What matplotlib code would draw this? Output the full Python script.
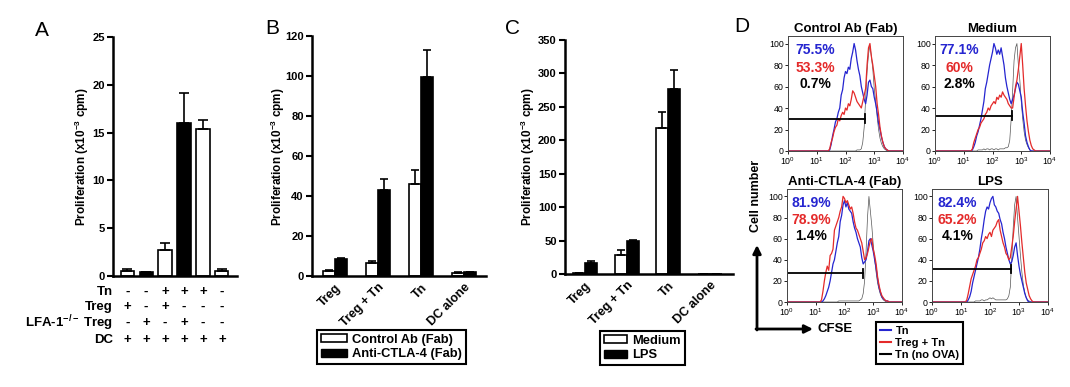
import matplotlib
matplotlib.use('Agg')
import matplotlib.pyplot as plt
import matplotlib.transforms as mtransforms
from matplotlib.patches import Patch
from matplotlib.lines import Line2D
from matplotlib.ticker import LogLocator, NullFormatter
import numpy as np

plt.rcParams['font.family'] = ['Liberation Sans', 'DejaVu Sans']
plt.rcParams['mathtext.fontset'] = 'custom'
plt.rcParams['mathtext.rm'] = 'Liberation Sans'
plt.rcParams['mathtext.bf'] = 'Liberation Sans:bold'
plt.rcParams['mathtext.it'] = 'Liberation Sans:italic'

# ---- panel A data ----
a_rows = ['Tn', 'Treg', r'LFA-1$^{\mathbf{-/-}}$ Treg', 'DC']
a_table = [['-', '-', '+', '+', '+', '-'],
           ['+', '-', '+', '-', '-', '-'],
           ['-', '+', '-', '+', '-', '-'],
           ['+', '+', '+', '+', '+', '+']]
a_vals = [0.52, 0.42, 2.75, 16.0, 15.4, 0.49]
a_err = [0.25, 0.0, 0.7, 3.1, 0.9, 0.24]

# ---- panel B data ----
b_groups = ['Treg', 'Treg + Tn', 'Tn', 'DC alone']
b_series = ['Control Ab (Fab)', 'Anti-CTLA-4 (Fab)']
b_ctrl = [2.5, 6.7, 46.2, 1.7]
b_ctrl_err = [0.7, 1.0, 7.0, 0.5]
b_anti = [8.3, 42.8, 99.3, 1.8]
b_anti_err = [0.5, 5.9, 13.9, 0.4]

# ---- panel C data ----
c_groups = ['Treg', 'Treg + Tn', 'Tn', 'DC alone']
c_series = ['Medium', 'LPS']
c_med = [1.5, 29, 219, 0]
c_med_err = [0, 7.5, 23, 0]
c_lps = [17, 49, 277, 0]
c_lps_err = [3, 1.5, 28, 0]

# ---- panel D data (CFSE histograms, log10 CFSE bins) ----
d_titles = ['Control Ab (Fab)', 'Medium', 'Anti-CTLA-4 (Fab)', 'LPS']
d_legend = ['Tn', 'Treg + Tn', 'Tn (no OVA)']
d_pct = [['75.5%', '53.3%', '0.7%'],
         ['77.1%', '60%', '2.8%'],
         ['81.9%', '78.9%', '1.4%'],
         ['82.4%', '65.2%', '4.1%']]
d_logx = np.round(np.arange(1.10, 3.601, 0.05), 2)
d_tn = [
    [0,0,0,0,0,0,0,1,6,14,20,27,30,36,40,52,57,68,74,72,78,76,86,92,100,94,84,76,70,60,54,48,44,52,64,66,60,58,50,44,36,26,20,13,8,4,2,1,0,0,0],
    [0,0,0,0,1,4,8,14,18,24,30,38,46,58,64,72,80,86,92,100,96,90,94,90,96,88,80,68,60,54,48,44,48,52,58,64,62,56,50,36,26,14,8,4,1,0,0,0,0,0,0],
    [0,0,0,1,3,6,10,14,20,28,36,40,48,56,62,76,82,92,96,90,94,88,86,84,76,70,66,60,56,52,42,36,38,40,48,58,60,54,48,40,32,22,14,9,5,3,2,1,1,0,0],
    [0,0,0,2,5,10,18,24,30,36,42,50,60,68,78,86,90,88,94,98,100,92,90,86,84,78,74,66,60,52,46,40,36,38,44,52,56,44,34,26,20,14,8,4,1,0,0,0,0,0,0],
]
d_treg_tn = [
    [0,0,0,0,0,0,0,2,8,12,18,22,24,30,28,33,36,34,40,38,44,42,48,56,54,50,46,44,42,40,46,52,58,80,96,100,88,80,70,60,44,34,22,14,8,4,2,1,0,0,0],
    [0,0,0,0,2,8,12,16,20,22,26,28,30,34,36,40,38,42,44,46,44,50,48,52,50,55,52,50,48,44,42,40,40,50,60,66,76,88,100,80,58,42,28,18,10,5,2,1,0,0,0],
    [0,0,2,10,20,28,34,30,44,46,50,68,72,76,80,86,90,100,98,94,96,92,88,90,84,76,70,68,64,60,56,48,40,42,46,52,58,60,50,44,36,24,16,10,6,4,2,1,1,0,0],
    [0,0,2,8,15,22,26,30,34,40,42,46,50,56,58,62,60,64,66,62,68,70,72,76,78,68,62,56,52,46,44,40,42,52,62,76,88,100,86,72,56,42,28,18,12,6,3,1,0,0,0],
]
d_no_ova = [
    [0,0,0,0,0,0,0,0,0,0,0,0,0,0,0,0,0,0,0,0,0,0,0,0,0,0,1,1,1,2,8,22,48,74,90,98,88,76,58,46,32,20,12,7,4,2,1,0,0,0,0],
    [0,0,0,0,0,0,0,0,1,1,1,1,2,1,2,2,1,2,2,1,2,2,1,2,2,2,2,3,3,4,10,30,56,84,96,100,80,66,46,30,18,10,6,3,1,0,0,0,0,0,0],
    [0,0,0,0,0,0,0,0,0,0,0,0,0,0,1,1,1,1,1,1,1,1,1,1,1,1,1,1,1,2,3,8,20,48,80,100,86,72,54,40,28,18,12,7,4,2,1,0,0,0,0],
    [0,0,0,0,0,0,0,0,1,1,1,1,2,2,1,2,2,3,4,3,4,3,2,2,2,2,2,2,2,2,3,6,14,40,70,92,100,80,62,44,28,16,9,4,2,1,0,0,0,0,0],
]
d_gate_end = [480, 480, 450, 520]
d_gate_y = [30, 33, 27, 31]

BLUE = '#2525d0'
RED = '#e42a2a'
W, H = 1070, 387

fig = plt.figure(figsize=(W / 100, H / 100), dpi=100)

ov = fig.add_axes([0, 0, 1, 1])
ov.set_xlim(0, W)
ov.set_ylim(H, 0)
ov.axis('off')


def px_axes(left, top, right, bottom):
    return fig.add_axes([left / W, 1 - bottom / H, (right - left) / W, (bottom - top) / H])


def bar_style(ax, ymax, step, fs=8):
    for s in ['top', 'right']:
        ax.spines[s].set_visible(False)
    for s in ['left', 'bottom']:
        ax.spines[s].set_linewidth(1.8)
    ax.set_ylim(0, ymax)
    ax.set_yticks(np.arange(0, ymax + 1, step))
    ax.tick_params(axis='y', length=4, width=1.5, labelsize=fs, pad=2)
    for lab in ax.get_yticklabels():
        lab.set_fontweight('bold')


ylab = r'Proliferation (x10$^{\mathbf{-3}}$ cpm)'
ekw = dict(elinewidth=1.2, capthick=1.2, ecolor='black')

# ---------------- A ----------------
axA = px_axes(113, 37, 237, 276)
xA = np.arange(len(a_vals))
colsA = ['black' if s == '+' else 'white' for s in a_table[2]]
axA.bar(xA, a_vals, width=0.7, color=colsA, edgecolor='black', linewidth=1.2,
        yerr=[np.zeros(len(a_err)), a_err], capsize=3.5, error_kw=ekw)
axA.set_xlim(-0.75, 5.8)
axA.set_xticks([])
bar_style(axA, 25, 5)
ov.text(82, 157, ylab, rotation=90, ha='center', va='center', fontsize=8.5, fontweight='bold')
ov.text(42, 31, 'A', fontsize=15, ha='center', va='center')
trA = mtransforms.blended_transform_factory(axA.transData, ov.transData)
row_y = [292, 307, 323, 340]
for r, (name, yy) in enumerate(zip(a_rows, row_y)):
    ov.text(113, yy, name, ha='right', va='center', fontsize=9.5, fontweight='bold')
    for i, s in enumerate(a_table[r]):
        ov.text(xA[i], yy, s, transform=trA, ha='center', va='center',
                fontsize=9.5, fontweight='bold')

# ---------------- B ----------------
axB = px_axes(312, 36, 486, 276)
xB = np.arange(len(b_groups))
wB = 0.28
axB.bar(xB - wB / 2, b_ctrl, wB, color='white', edgecolor='black', linewidth=1.2,
        yerr=[np.zeros(4), b_ctrl_err], capsize=3, error_kw=ekw)
axB.bar(xB + wB / 2, b_anti, wB, color='black', edgecolor='black', linewidth=1.2,
        yerr=[np.zeros(4), b_anti_err], capsize=3, error_kw=ekw)
axB.set_xlim(-0.53, 3.51)
bar_style(axB, 120, 20)
axB.set_xticks(xB)
axB.set_xticklabels(b_groups, rotation=45, ha='right', rotation_mode='anchor',
                    fontsize=9, fontweight='bold')
axB.tick_params(axis='x', length=0, pad=4)
ov.text(278, 157, ylab, rotation=90, ha='center', va='center', fontsize=8.5, fontweight='bold')
ov.text(272, 28, 'B', fontsize=15, ha='center', va='center')
legB = fig.legend([Patch(fc='white', ec='black', lw=1.2), Patch(fc='black', ec='black')],
                  b_series, loc='upper left', bbox_to_anchor=(317 / W, 1 - 330 / H),
                  frameon=True, fancybox=False, edgecolor='black', framealpha=1,
                  prop=dict(weight='bold', size=9.3), handlelength=2.0, handleheight=0.6,
                  borderpad=0.3, labelspacing=0.2, handletextpad=0.4, borderaxespad=0)
legB.get_frame().set_linewidth(1.5)

# ---------------- C ----------------
axC = px_axes(565, 40, 733, 274)
xC = np.arange(len(c_groups))
wC = 0.29
axC.bar(xC - wC / 2, c_med, wC, color='white', edgecolor='black', linewidth=1.2,
        yerr=[np.zeros(4), c_med_err], capsize=3, error_kw=ekw)
axC.bar(xC + wC / 2, c_lps, wC, color='black', edgecolor='black', linewidth=1.2,
        yerr=[np.zeros(4), c_lps_err], capsize=3, error_kw=ekw)
axC.set_xlim(-0.48, 3.55)
bar_style(axC, 350, 50)
axC.set_xticks(xC)
axC.set_xticklabels(c_groups, rotation=45, ha='right', rotation_mode='anchor',
                    fontsize=9, fontweight='bold')
axC.tick_params(axis='x', length=0, pad=4)
ov.text(528, 157, ylab, rotation=90, ha='center', va='center', fontsize=8.5, fontweight='bold')
ov.text(512, 28, 'C', fontsize=15, ha='center', va='center')
legC = fig.legend([Patch(fc='white', ec='black', lw=1.2), Patch(fc='black', ec='black')],
                  c_series, loc='upper left', bbox_to_anchor=(600 / W, 1 - 331 / H),
                  frameon=True, fancybox=False, edgecolor='black', framealpha=1,
                  prop=dict(weight='bold', size=9.3), handlelength=1.8, handleheight=0.6,
                  borderpad=0.3, labelspacing=0.2, handletextpad=0.4, borderaxespad=0)
legC.get_frame().set_linewidth(1.5)

# ---------------- D ----------------
d_boxes = [(788, 36, 903, 151), (935, 36, 1050, 151),
           (787, 189, 902, 302), (932, 189, 1048, 302)]
pct_x = [0.235, 0.21, 0.21, 0.22]
xs = np.concatenate([[0.0], d_logx, [4.0]])


def pad0(v):
    return np.concatenate([[0], v, [0]])


for k, box in enumerate(d_boxes):
    ax = px_axes(*box)
    ax.plot(10 ** xs, pad0(d_no_ova[k]), color='#555555', lw=0.5)
    ax.plot(10 ** xs, pad0(d_tn[k]), color=BLUE, lw=0.9)
    ax.plot(10 ** xs, pad0(d_treg_tn[k]), color=RED, lw=0.9)
    g = d_gate_y[k]
    ax.plot([1, d_gate_end[k]], [g, g], color='black', lw=1.3)
    ax.plot([1, 1], [g - 4, g + 4], color='black', lw=1.3)
    ax.plot([d_gate_end[k]] * 2, [g - 4, g + 4], color='black', lw=1.3)
    ax.set_xscale('log')
    ax.set_xlim(1, 1e4)
    ax.set_ylim(0, 107)
    ax.set_yticks([0, 20, 40, 60, 80, 100])
    ax.set_xticks([1, 10, 100, 1000, 10000])
    ax.set_xticklabels([r'$10^{%d}$' % i for i in range(5)])
    ax.xaxis.set_minor_locator(LogLocator(base=10, subs=np.arange(2, 10)))
    ax.xaxis.set_minor_formatter(NullFormatter())
    ax.tick_params(labelsize=6.3, length=2, width=0.6, pad=1)
    ax.tick_params(which='minor', length=1.2, width=0.5)
    for s in ax.spines.values():
        s.set_linewidth(0.7)
        s.set_color('#444444')
    ax.set_title(d_titles[k], fontsize=9.5, fontweight='bold', pad=3)
    for j, (txt, col) in enumerate(zip(d_pct[k], [BLUE, RED, 'black'])):
        ax.text(pct_x[k], [0.88, 0.725, 0.58][j], txt, transform=ax.transAxes,
                color=col, fontsize=10, fontweight='bold', ha='center', va='center')

ov.text(742, 27, 'D', fontsize=15, ha='center', va='center')
ov.text(756, 196, 'Cell number', rotation=90, ha='center', va='center', fontsize=9, fontweight='bold')
ov.annotate('', xy=(757, 245), xytext=(757, 330),
            arrowprops=dict(arrowstyle='-|>', lw=2, color='black', mutation_scale=12,
                            shrinkA=0, shrinkB=0))
ov.annotate('', xy=(813, 329), xytext=(756, 329),
            arrowprops=dict(arrowstyle='-|>', lw=2, color='black', mutation_scale=12,
                            shrinkA=0, shrinkB=0))
ov.text(817, 329, 'CFSE', ha='left', va='center', fontsize=9.5, fontweight='bold')
legD = fig.legend([Line2D([], [], color=c, lw=1.5) for c in [BLUE, RED, 'black']],
                  d_legend, loc='upper left', bbox_to_anchor=(876 / W, 1 - 322 / H),
                  frameon=True, fancybox=False, edgecolor='black', framealpha=1,
                  prop=dict(weight='bold', size=8), handlelength=1.0,
                  borderpad=0.35, labelspacing=0.2, handletextpad=0.4, borderaxespad=0)
legD.get_frame().set_linewidth(1.5)

fig.savefig('out.png', dpi=100)
